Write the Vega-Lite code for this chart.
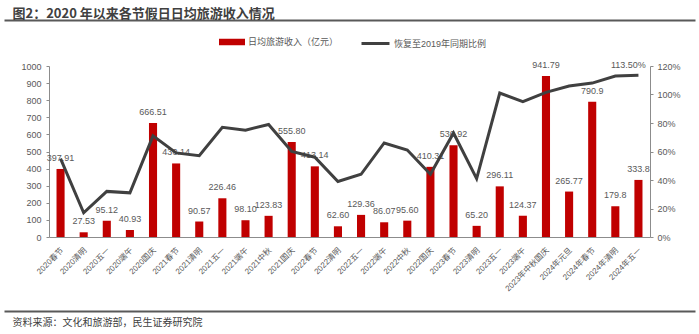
{
  "$schema": "https://vega.github.io/schema/vega-lite/v6.json",
  "autosize": {"type": "none"},
  "padding": {"left": 49, "top": 66, "right": 49, "bottom": 97},
  "width": 601,
  "height": 171,
  "config": {
    "font": "'Liberation Sans', 'Noto Sans CJK SC', sans-serif",
    "view": {"stroke": null},
    "axis": {"labelColor": "#595959", "domainColor": "#8c8c8c", "tickColor": "#8c8c8c", "grid": false, "labelFontSize": 9}
  },
  "data": {"values": [
    {"holiday": "2020春节", "revenue": 397.91, "label": "397.91", "ratio": 0.55},
    {"holiday": "2020清明", "revenue": 27.53, "label": "27.53", "ratio": 0.17},
    {"holiday": "2020五一", "revenue": 95.12, "label": "95.12", "ratio": 0.32},
    {"holiday": "2020端午", "revenue": 40.93, "label": "40.93", "ratio": 0.31},
    {"holiday": "2020国庆", "revenue": 666.51, "label": "666.51", "ratio": 0.71},
    {"holiday": "2021春节", "revenue": 430.14, "label": "430.14", "ratio": 0.59},
    {"holiday": "2021清明", "revenue": 90.57, "label": "90.57", "ratio": 0.57},
    {"holiday": "2021五一", "revenue": 226.46, "label": "226.46", "ratio": 0.77},
    {"holiday": "2021端午", "revenue": 98.10, "label": "98.10", "ratio": 0.75},
    {"holiday": "2021中秋", "revenue": 123.83, "label": "123.83", "ratio": 0.79},
    {"holiday": "2021国庆", "revenue": 555.80, "label": "555.80", "ratio": 0.60},
    {"holiday": "2022春节", "revenue": 413.14, "label": "413.14", "ratio": 0.56},
    {"holiday": "2022清明", "revenue": 62.60, "label": "62.60", "ratio": 0.39},
    {"holiday": "2022五一", "revenue": 129.36, "label": "129.36", "ratio": 0.44},
    {"holiday": "2022端午", "revenue": 86.07, "label": "86.07", "ratio": 0.66},
    {"holiday": "2022中秋", "revenue": 95.60, "label": "95.60", "ratio": 0.61},
    {"holiday": "2022国庆", "revenue": 410.31, "label": "410.31", "ratio": 0.44},
    {"holiday": "2023春节", "revenue": 536.92, "label": "536.92", "ratio": 0.73},
    {"holiday": "2023清明", "revenue": 65.20, "label": "65.20", "ratio": 0.41},
    {"holiday": "2023五一", "revenue": 296.11, "label": "296.11", "ratio": 1.01},
    {"holiday": "2023端午", "revenue": 124.37, "label": "124.37", "ratio": 0.95},
    {"holiday": "2023年中秋国庆", "revenue": 941.79, "label": "941.79", "ratio": 1.015},
    {"holiday": "2024年元旦", "revenue": 265.77, "label": "265.77", "ratio": 1.06},
    {"holiday": "2024年春节", "revenue": 790.9, "label": "790.9", "ratio": 1.08},
    {"holiday": "2024年清明", "revenue": 179.8, "label": "179.8", "ratio": 1.13},
    {"holiday": "2024年五一", "revenue": 333.8, "label": "333.8", "ratio": 1.135, "ratioLabel": "113.50%"}
  ]},
  "layer": [
    {
      "encoding": {
        "x": {"field": "holiday", "type": "nominal", "sort": null,
              "scale": {"paddingInner": 0.65, "paddingOuter": 0.325},
              "axis": {"title": null, "labelAngle": -45, "labelAlign": "right", "labelBaseline": "middle", "ticks": false, "labelPadding": 12, "labelOffset": 2, "labelFontSize": 8, "labelLimit": 0}}
      },
      "layer": [
        {
          "encoding": {
            "y": {"field": "revenue", "type": "quantitative",
                  "scale": {"domain": [0, 1000]},
                  "axis": {"title": null, "orient": "left", "values": [0, 100, 200, 300, 400, 500, 600, 700, 800, 900, 1000], "format": "d", "tickSize": 3, "labelPadding": 5}}
          },
          "layer": [
            {
              "mark": {"type": "bar", "color": "#C00000"},
              "encoding": {
                "fill": {"datum": "日均旅游收入（亿元）", "type": "nominal",
                         "scale": {"range": ["#C00000"]},
                         "legend": {"orient": "none", "legendX": 170, "legendY": -37, "title": null, "padding": 0,
                                    "symbolType": "M-1,-0.25H1V0.25H-1Z", "symbolSize": 676, "symbolStrokeWidth": 0,
                                    "labelFontSize": 9, "labelColor": "#595959", "labelOffset": 3}}
              }
            },
            {
              "mark": {"type": "text", "dy": -11, "fontSize": 9, "color": "#595959"},
              "encoding": {"text": {"field": "label"}}
            }
          ]
        },
        {
          "encoding": {
            "y": {"field": "ratio", "type": "quantitative",
                  "scale": {"domain": [0, 1.2]},
                  "axis": {"title": null, "orient": "right", "values": [0, 0.2, 0.4, 0.6, 0.8, 1.0, 1.2], "format": ".0%", "tickSize": 3, "labelPadding": 4}}
          },
          "layer": [
            {
              "mark": {"type": "line", "strokeWidth": 3, "color": "#404040"},
              "encoding": {
                "stroke": {"datum": "恢复至2019年同期比例", "type": "nominal",
                           "scale": {"range": ["#404040"]},
                           "legend": {"orient": "none", "legendX": 311, "legendY": -38, "title": null, "padding": 0,
                                      "symbolType": "stroke", "symbolSize": 784, "symbolStrokeWidth": 3,
                                      "labelFontSize": 9, "labelColor": "#595959", "labelOffset": 3}}
              }
            },
            {
              "transform": [{"filter": "datum.ratioLabel != null"}],
              "mark": {"type": "text", "dx": -10, "dy": -10, "fontSize": 9, "color": "#595959"},
              "encoding": {"text": {"field": "ratioLabel"}}
            }
          ]
        }
      ],
      "resolve": {"scale": {"y": "independent"}}
    },
    {
      "mark": {"type": "rule", "opacity": 0},
      "encoding": {
        "x": {"datum": 0, "type": "quantitative",
              "scale": {"domain": [0, 1], "range": [-45, 646], "nice": false, "zero": false},
              "axis": {"orient": "top", "offset": 46, "domain": true, "domainColor": "#595959", "domainWidth": 2,
                       "labels": false, "ticks": false, "grid": false,
                       "title": "图2：2020 年以来各节假日日均旅游收入情况",
                       "titleAnchor": "start", "titleAlign": "left", "titleX": -37, "titleY": -3, "titleBaseline": "alphabetic",
                       "titleFont": "'Noto Sans CJK SC', sans-serif", "titleFontSize": 13, "titleFontWeight": "bold", "titleColor": "#404040"}}
      }
    },
    {
      "mark": {"type": "rule", "opacity": 0},
      "encoding": {
        "x": {"datum": 0, "type": "quantitative",
              "scale": {"domain": [0, 1], "range": [-45, 646], "nice": false, "zero": false},
              "axis": {"orient": "bottom", "offset": 74, "domain": true, "domainColor": "#595959", "domainWidth": 2,
                       "labels": false, "ticks": false, "grid": false,
                       "title": "资料来源：文化和旅游部，民生证券研究院",
                       "titleAnchor": "start", "titleAlign": "left", "titleX": -37, "titleY": 11, "titleBaseline": "middle",
                       "titleFont": "'Noto Sans CJK SC', sans-serif", "titleFontSize": 10, "titleFontWeight": "normal", "titleColor": "#404040"}}
      }
    }
  ],
  "resolve": {"scale": {"x": "independent"}}
}
